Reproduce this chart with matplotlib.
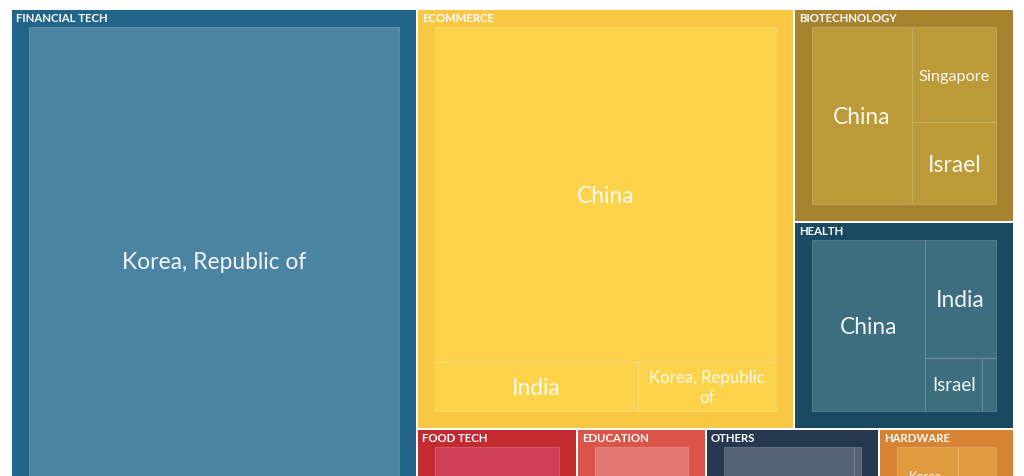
import matplotlib
matplotlib.use("Agg")
import matplotlib.pyplot as plt
from matplotlib.patches import Rectangle
from matplotlib.font_manager import FontProperties

# sector order as drawn, and the nesting used for the top-level split
sectors = ["Financial Tech", "Ecommerce", "Biotechnology", "Health",
           "Food Tech", "Education", "Others", "Hardware"]
sector_groups = ["Financial Tech",
                 [["Ecommerce", ["Biotechnology", "Health"]],
                  ["Food Tech", "Education", "Others", "Hardware"]]]

# countries and values per sector (rows cut off at the bottom are estimates)
fin_countries = ["Korea, Republic of", "Singapore"]
fin_values = [372, 32]
ecom_countries = ["China", "India", "Korea, Republic of"]
ecom_values = [253, 22, 15]
bio_countries = ["China", "Singapore", "Israel"]
bio_values = [47, 21, 18]
health_countries = ["China", "India", "Israel", "Singapore"]
health_values = [51.5, 22, 8, 2]
food_countries = ["China"]
food_values = [36.3]
edu_countries = ["India"]
edu_values = [29]
other_countries = ["China", "India"]
other_values = [37.1, 2]
hw_countries = ["Korea, Republic of", "China"]
hw_values = [18.8, 11.8]

outer_colors = ["#23648a", "#f8c845", "#a7822f", "#1a4a62",
                "#c42b31", "#dc5449", "#263850", "#d68333"]
inner_colors = ["#4b84a2", "#fcd34b", "#bb9a37", "#3d6e80",
                "#ce3e56", "#e27670", "#536274", "#e09c3e"]

children = dict(zip(sectors, [
    (fin_countries, fin_values), (ecom_countries, ecom_values),
    (bio_countries, bio_values), (health_countries, health_values),
    (food_countries, food_values), (edu_countries, edu_values),
    (other_countries, other_values), (hw_countries, hw_values)]))
totals = {s: sum(v) for s, (c, v) in children.items()}

DPI = 100
fig = plt.figure(figsize=(10.24, 4.76), dpi=DPI)
ax = fig.add_axes([0, 0, 1, 1])
ax.set_xlim(0, 1024)
ax.set_ylim(476, 0)
ax.axis("off")
renderer = fig.canvas.get_renderer()

FONT = "Lato"
PAD = 17
MAX_PX, MIN_PX = 22.7, 9
VIEW_BOTTOM = 476


def group_total(node):
    if isinstance(node, str):
        return totals[node]
    return sum(group_total(n) for n in node)


def slice_dice(node, x0, y0, x1, y1, depth, out):
    if isinstance(node, str):
        out[node] = (x0, y0, x1, y1)
        return
    tot = group_total(node)
    pos = x0 if depth % 2 == 0 else y0
    for n in node:
        f = group_total(n) / tot
        if depth % 2 == 0:
            nxt = pos + (x1 - x0) * f
            slice_dice(n, pos, y0, nxt, y1, depth + 1, out)
        else:
            nxt = pos + (y1 - y0) * f
            slice_dice(n, x0, pos, x1, nxt, depth + 1, out)
        pos = nxt


def binary(vals, x0, y0, x1, y1):
    sums = [0]
    for v in vals:
        sums.append(sums[-1] + v)
    out = [None] * len(vals)

    def part(i, j, value, x0, y0, x1, y1):
        if i >= j - 1:
            out[i] = (x0, y0, x1, y1)
            return
        off = sums[i]
        target = value / 2 + off
        k, hi = i + 1, j - 1
        while k < hi:
            mid = (k + hi) // 2
            if sums[mid] < target:
                k = mid + 1
            else:
                hi = mid
        if target - sums[k - 1] < sums[k] - target and i + 1 < k:
            k -= 1
        left = sums[k] - off
        right = value - left
        if x1 - x0 > y1 - y0:
            xk = (x0 * right + x1 * left) / value
            part(i, k, left, x0, y0, xk, y1)
            part(k, j, right, xk, y0, x1, y1)
        else:
            yk = (y0 * right + y1 * left) / value
            part(i, k, left, x0, y0, x1, yk)
            part(k, j, right, x0, yk, x1, y1)

    part(0, len(vals), sums[-1], x0, y0, x1, y1)
    return out


def text_w(s, px):
    prop = FontProperties(family=FONT, size=px * 72 / DPI)
    w, h, d = renderer.get_text_width_height_descent(s, prop, ismath=False)
    return w


def fit(name, w, h):
    words = name.split()
    px = MAX_PX
    while px >= MIN_PX:
        avail = w - 12
        lines, cur, ok = [], "", True
        for wd in words:
            trial = (cur + " " + wd).strip()
            if text_w(trial, px) <= avail:
                cur = trial
            else:
                if not cur or text_w(wd, px) > avail:
                    ok = False
                    break
                lines.append(cur)
                cur = wd
        if ok:
            lines.append(cur)
            if len(lines) * px * 1.2 <= h - 8:
                return px, lines
        px -= 0.5
    return None


tiles = {}
slice_dice(sector_groups, 11, 9, 1014, 553, 0, tiles)

for i, s in enumerate(sectors):
    x0, y0, x1, y1 = tiles[s]
    x0, y0, x1, y1 = x0 + 1, y0 + 1, x1 - 1, y1 - 1
    ax.add_patch(Rectangle((x0, y0), x1 - x0, y1 - y0, facecolor=outer_colors[i],
                           edgecolor="none"))
    ax.text(x0 + 4, y0 + 12, s.upper(), color="white", fontsize=11.4 * 72 / DPI,
            fontweight="bold", family=FONT, ha="left", va="baseline")
    names, vals = children[s]
    boxes = binary(vals, x0 + PAD, y0 + PAD, x1 - PAD, y1 - PAD)
    for name, (bx0, by0, bx1, by1) in zip(names, boxes):
        ax.add_patch(Rectangle((bx0, by0), bx1 - bx0, by1 - by0,
                               facecolor=inner_colors[i],
                               edgecolor=(1, 1, 1, 0.18), linewidth=0.8))
        res = fit(name, bx1 - bx0, by1 - by0)
        if not res:
            continue
        px, lines = res
        lh = 1.2 * px
        cy = (by0 + by1) / 2
        for k, line in enumerate(lines):
            base = cy - len(lines) * lh / 2 + (k + 0.5) * lh + 0.36 * px
            if base - 0.72 * px > VIEW_BOTTOM:
                continue
            ax.text((bx0 + bx1) / 2, base, line, color=(1, 1, 1, 0.92),
                    fontsize=px * 72 / DPI, family=FONT,
                    ha="center", va="baseline")

fig.savefig("out.png", dpi=DPI)
